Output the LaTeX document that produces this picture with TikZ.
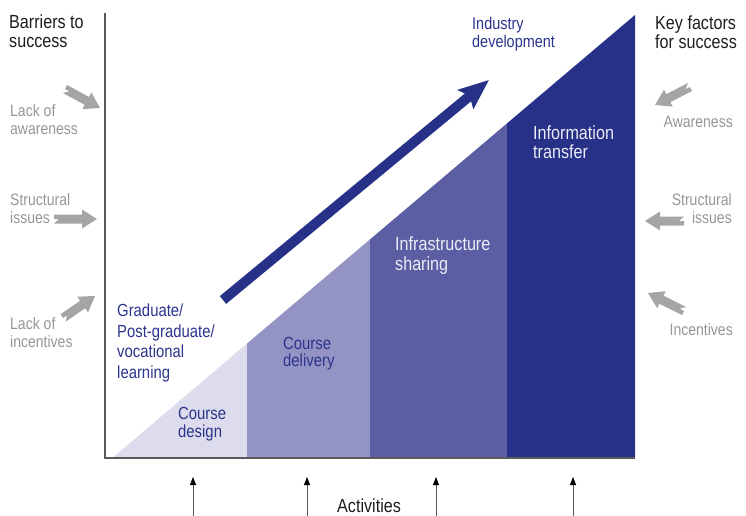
\documentclass[tikz,border=0pt]{standalone}
\usepackage{fontspec}
\setmainfont{Liberation Sans}[FakeStretch=0.85]
\usetikzlibrary{calc,arrows.meta}

\definecolor{navytext}{RGB}{43,52,140}
\definecolor{stageA}{RGB}{220,220,236}
\definecolor{stageB}{RGB}{148,148,196}
\definecolor{stageC}{RGB}{91,94,163}
\definecolor{stageD}{RGB}{38,49,135}
\definecolor{paletext}{RGB}{236,236,246}
\definecolor{softgray}{RGB}{150,150,150}
\definecolor{arrowgray}{RGB}{165,165,165}
\definecolor{headtext}{RGB}{30,30,30}
\definecolor{axisgray}{RGB}{90,90,90}

% fat grey arrow with a notched tail, from tail point #1 to tip point #2
\newcommand{\notchedarrow}[2]{%
  \fill[arrowgray]
    (#1)
    -- ($(#1)!4.5pt!90:(#2)$)
    -- ($($(#2)!15pt!(#1)$)!4.5pt!-90:(#1)$)
    -- ($($(#2)!15pt!(#1)$)!9.5pt!-90:(#1)$)
    -- (#2)
    -- ($($(#2)!15pt!(#1)$)!9.5pt!90:(#1)$)
    -- ($($(#2)!15pt!(#1)$)!4.5pt!90:(#1)$)
    -- ($(#1)!4.5pt!-90:(#2)$)
    -- ($(#1)!5pt!(#2)$)
    -- cycle;}

\tikzset{
  heading/.style={font=\fontsize{19}{19}\selectfont, text=headtext, inner sep=0pt},
  sidelabel/.style={font=\fontsize{16.5}{18.5}\selectfont, text=softgray, inner sep=0pt},
  stagelabel/.style={font=\fontsize{17.5}{18.5}\selectfont, inner sep=0pt, align=left, anchor=north west},
  axisline/.style={draw=axisgray, line width=1.5pt},
  activityarrow/.style={draw=axisgray, line width=0.8pt, -{Triangle[length=8pt,width=6pt,black]}},
}

\begin{document}
\begin{tikzpicture}[x=1pt, y=-1pt]
\useasboundingbox (0,0) rectangle (746,516);

% stages under the rising diagonal
\fill[stageA] (113,457.5) -- (247,343.5) -- (247,457.5) -- cycle;
\fill[stageB] (247,457.5) -- (247,343.5) -- (370,239.4) -- (370,457.5) -- cycle;
\fill[stageC] (370,457.5) -- (370,239.4) -- (507,123.4) -- (507,457.5) -- cycle;
\fill[stageD] (507,457.5) -- (507,123.4) -- (635,15) -- (635,457.5) -- cycle;

% axes
\coordinate (origin) at (105,458);
\coordinate (ytop) at (105,13);
\coordinate (xend) at (635,458);
\draw[axisline] (ytop) -- (origin) -- (xend);

% main growth arrow
\coordinate (growstart) at (223,300);
\coordinate (growend) at (489,80);
\draw[draw=stageD, line width=10pt, -{Stealth[length=30pt,width=24pt,inset=5pt]}] (growstart) -- (growend);

% headings
\node[heading, anchor=north west, align=left] (barriers) at (9,15) {Barriers to\\success};
\node[heading, anchor=north west, align=left] (keyfactors) at (655,16) {Key factors\\for success};

% barriers (left)
\node[sidelabel, anchor=north west, align=left] (lackaware) at (10,104) {Lack of\\awareness};
\node[sidelabel, anchor=north west, align=left] (structleft) at (10,193) {Structural\\issues};
\node[sidelabel, anchor=north west, align=left] (lackincent) at (10,317) {Lack of\\incentives};

% key factors (right)
\node[sidelabel, anchor=north east, align=right] (aware) at (733,116) {Awareness};
\node[sidelabel, anchor=north east, align=right] (structright) at (732,193) {Structural\\issues};
\node[sidelabel, anchor=north east, align=right] (incent) at (733,323) {Incentives};

% grey arrows pointing at the axis / the chart
\coordinate (la0) at (65,89);  \coordinate (la1) at (100,108);
\coordinate (ls0) at (54,219); \coordinate (ls1) at (97,219);
\coordinate (li0) at (63,318); \coordinate (li1) at (95,296);
\coordinate (ra0) at (690,87); \coordinate (ra1) at (655,105);
\coordinate (rs0) at (684,221); \coordinate (rs1) at (645,221);
\coordinate (ri0) at (684,311); \coordinate (ri1) at (648,293);
\notchedarrow{la0}{la1}
\notchedarrow{ls0}{ls1}
\notchedarrow{li0}{li1}
\notchedarrow{ra0}{ra1}
\notchedarrow{rs0}{rs1}
\notchedarrow{ri0}{ri1}

% stage labels
\node[stagelabel, text=navytext, font=\fontsize{17}{18}\selectfont] (industry) at (472,17) {Industry\\development};
\node[stagelabel, text=paletext, font=\fontsize{19}{19}\selectfont] (info) at (533,126) {Information\\transfer};
\node[stagelabel, text=paletext, font=\fontsize{19}{19.5}\selectfont] (infra) at (395,237) {Infrastructure\\sharing};
\node[stagelabel, text=navytext, font=\fontsize{17.5}{17}\selectfont] (delivery) at (283,337) {Course\\delivery};
\node[stagelabel, text=navytext, font=\fontsize{17.5}{20.5}\selectfont] (graduate) at (117,304) {Graduate/\\Post-graduate/\\vocational\\learning};
\node[stagelabel, text=navytext] (design) at (178,407) {Course\\design};

% activities
\node[heading, anchor=north west] (activities) at (337,499) {Activities};
\foreach \i/\x in {1/193,2/307,3/436,4/573}{
  \coordinate (act\i a) at (\x,516);
  \coordinate (act\i b) at (\x,477);
  \draw[activityarrow] (act\i a) -- (act\i b);
}
\end{tikzpicture}
\end{document}
